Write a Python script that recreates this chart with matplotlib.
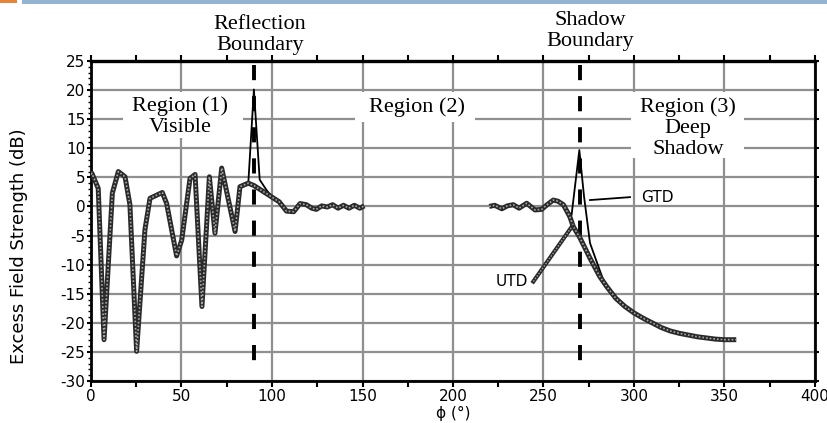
import numpy as np
import matplotlib
matplotlib.use("Agg")
import matplotlib.pyplot as plt
from matplotlib.patches import Rectangle
from matplotlib.ticker import MultipleLocator

plt.rcParams['font.family'] = 'DejaVu Sans'
plt.rcParams['axes.unicode_minus'] = False

# UTD curve (excess field strength in dB vs angle phi); None = no data
utd_phi = [0, 0.5, 4, 7.2, 11.8, 15.1, 18.8, 21.5, 25.2, 29.8, 32.6, 39.4, 41.8,
           47.3, 50.1, 54.7, 57.5, 61.3, 65.4, 68.5, 72.2, 79.6, 82.3, 86.9, 90,
           95, 100, 104, 108, 112, 115.5, 119, 122, 124.5, 127.5, 130.5, 133.5,
           136.5, 139.5, 142.5, 145.5, 148.5, 151, 152,
           220, 223, 227, 230, 233.3, 236.5, 240.7, 245.3, 249, 252, 255.4, 258,
           261, 264.6, 266.5, 270, 275.7, 281, 285, 290, 295, 300, 305, 310, 315,
           320, 325, 330, 335, 340, 345, 350, 356.5]
utd_db = [5.5, 5.7, 3.1, -22.9, 2.3, 6.0, 5.1, 0.3, -24.9, -4.0, 1.4, 2.4, 0.5,
          -8.5, -5.8, 4.8, 5.5, -17.2, 5.1, -4.6, 6.6, -4.3, 3.4, 4.0, 3.6,
          2.6, 1.6, 0.8, -0.8, -0.9, 0.5, 0.3, -0.3, -0.5, 0.1, -0.1, 0.3,
          -0.3, 0.2, -0.3, 0.2, -0.3, 0.1, None,
          0.0, 0.2, -0.4, 0.1, 0.3, -0.3, 0.55, -0.6, -0.5, 0.3, 1.1, 0.9,
          0.3, -1.8, -3.5, -5.3, -8.9, -12.0, -13.8, -15.8, -17.2, -18.3, -19.2,
          -20.0, -20.8, -21.4, -21.8, -22.1, -22.4, -22.6, -22.8, -22.9, -22.9]

# GTD where it departs from UTD (elsewhere the two coincide)
gtd_rb_phi = [82.3, 86.9, 90, 93.2, 97, 101]
gtd_rb_db = [3.4, 4.0, 20.1, 4.6, 2.8, 1.3]
gtd_sb_phi = [261, 263.5, 265.5, 269.8, 272.4, 275.7, 280.3, 283, 286]
gtd_sb_db = [0.3, -0.8, -1.5, 9.7, 1.7, -6.3, -10.3, -12.6, -14.2]

boundaries = [90, 270]

utd_y = np.array([np.nan if v is None else v for v in utd_db], dtype=float)

fig = plt.figure(figsize=(8.28, 4.23), dpi=100)
ax = fig.add_axes([91 / 828, 42 / 423, 724 / 828, 320 / 423])

# slide decoration at the top
fig.add_artist(Rectangle((22 / 828, 419 / 423), 1, 4 / 423, transform=fig.transFigure,
                         facecolor='#93b3d1', edgecolor='none'))
fig.add_artist(Rectangle((0, 420 / 423), 17 / 828, 3 / 423, transform=fig.transFigure,
                         facecolor='#e8833a', edgecolor='none'))

ax.set_xlim(0, 400)
ax.set_ylim(-30, 25)
ax.xaxis.set_major_locator(MultipleLocator(50))
ax.xaxis.set_minor_locator(MultipleLocator(25))
ax.yaxis.set_major_locator(MultipleLocator(5))
ax.yaxis.set_minor_locator(MultipleLocator(1))
ax.set_axisbelow(True)
ax.grid(True, which='major', color='#8f8f8f', lw=1.6)

for s in ax.spines.values():
    s.set_linewidth(2.0)
    s.set_color('black')
ax.spines['top'].set_linewidth(2.4)

ax.tick_params(axis='x', which='both', direction='out', top=True, labelsize=11,
               length=4, width=1.5, pad=2, colors='black')
ax.tick_params(axis='y', which='major', direction='out', length=3, width=1.5,
               labelsize=11, pad=1, right=True)
ax.tick_params(axis='y', which='minor', direction='out', length=2, width=1.0)

# white boxes behind the region labels (they break the grid)
for (x0, x1, y0, y1) in [(17.7, 84, 11.7, 19.7), (146, 212, 14.5, 19.6),
                         (298.5, 361, 8.3, 19.7)]:
    ax.add_patch(Rectangle((x0, y0), x1 - x0, y1 - y0, facecolor='white',
                           edgecolor='none', zorder=1))

serif = dict(family='Liberation Serif', fontsize=16, ha='center', va='center',
             linespacing=1.13, zorder=5)
ax.text(49, 15.5, 'Region (1)\nVisible', **serif)
ax.text(180, 17.1, 'Region (2)', **serif)
ax.text(330, 13.5, 'Region (3)\nDeep\nShadow', **serif)
ax.text(93.4, 29.5, 'Reflection\nBoundary', clip_on=False, **serif)
ax.text(276, 30.2, 'Shadow\nBoundary', clip_on=False, **serif)

for b in boundaries:
    ax.plot([b, b], [24.3, -28.1], color='black', lw=2.8, dashes=(3.9, 4.1), zorder=3)

# GTD (thin solid)
ax.plot(gtd_rb_phi, gtd_rb_db, color='black', lw=1.3, zorder=4)
ax.plot(gtd_sb_phi, gtd_sb_db, color='black', lw=1.3, zorder=4)

# UTD (thick dotted-looking)
ax.plot(utd_phi, utd_y, color='#2a2a2a', lw=3.6, zorder=4, solid_capstyle='butt')
ax.plot(utd_phi, utd_y, color='#a8a8a8', lw=1.2, ls=(0, (1, 1.2)), zorder=4)

# leaders and labels
ax.plot([244.4, 265.6], [-12.9, -3.5], color='#2a2a2a', lw=3.0, zorder=4)
ax.plot([244.4, 265.6], [-12.9, -3.5], color='#a8a8a8', lw=1.0, ls=(0, (1, 1.2)), zorder=4)
ax.text(241.5, -12.9, 'UTD', fontsize=11, ha='right', va='center', zorder=5)
ax.plot([275.7, 297.8], [1.1, 1.6], color='black', lw=1.3, zorder=4)
ax.text(304, 1.6, 'GTD', fontsize=11, ha='left', va='center', zorder=5)

ax.set_xlabel('ϕ (°)', fontsize=11, labelpad=1)
fig.text(19 / 828, 1 - 246 / 423, 'Excess Field Strength (dB)', rotation=90,
         fontsize=13, ha='center', va='center')

fig.savefig('out.png', dpi=100)
